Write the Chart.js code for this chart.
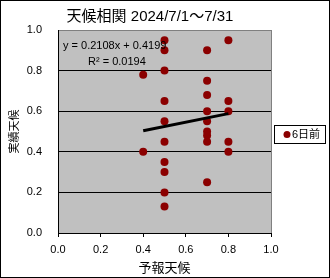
<!DOCTYPE html>
<html>
<head>
<meta charset="utf-8">
<script src="https://cdn.jsdelivr.net/npm/chart.js@4"></script>
<style>
  body { margin: 0; background: #fff; }
  canvas { display: block; }
</style>
</head>
<body>
<canvas id="chart" width="330" height="278"></canvas>
<script>
const FONT = "'Liberation Sans', 'Noto Sans CJK JP', sans-serif";

const chartTitle = "天候相関 2024/7/1〜7/31";
const seriesName = "6日前";
const xTitle = "予報天候";
const yTitle = "実績天候";
const trendLabel = "y = 0.2108x + 0.4199";
const r2Label = "R² = 0.0194";

// forecast value (x) and observed value (y) for each day
const forecast = [
  0.4, 0.4,
  0.5, 0.5, 0.5, 0.5, 0.5, 0.5, 0.5, 0.5, 0.5, 0.5,
  0.7, 0.7, 0.7, 0.7, 0.7, 0.7, 0.7, 0.7, 0.7,
  0.8, 0.8, 0.8, 0.8, 0.8,
];
const actual = [
  0.78, 0.40,
  0.95, 0.90, 0.80, 0.65, 0.55, 0.45, 0.35, 0.30, 0.20, 0.13,
  0.90, 0.75, 0.68, 0.60, 0.55, 0.50, 0.48, 0.45, 0.25,
  0.95, 0.65, 0.60, 0.45, 0.40,
];

// linear trendline end points as drawn
const trendX = [0.4, 0.8];
const trendY = [0.504, 0.588];

const points = forecast.map((x, i) => ({ x, y: actual[i] }));
const trend = trendX.map((x, i) => ({ x, y: trendY[i] }));

// plot background, borders, title, regression text and the legend box
const decor = {
  id: "decor",
  beforeDraw(chart) {
    const { ctx, chartArea: a } = chart;
    ctx.save();
    ctx.fillStyle = "#c0c0c0";
    ctx.fillRect(a.left, a.top, a.right - a.left, a.bottom - a.top);
    ctx.restore();
  },
  afterDatasetsDraw(chart) {
    const { ctx } = chart;
    ctx.save();
    ctx.fillStyle = "#000";
    ctx.font = `11px ${FONT}`;
    ctx.textBaseline = "middle";
    ctx.textAlign = "left";
    ctx.fillText(trendLabel, 63, 46);
    ctx.fillText(r2Label, 88, 62);
    ctx.restore();
  },
  afterDraw(chart) {
    const { ctx, chartArea: a } = chart;
    ctx.save();
    // right edge of the plot
    ctx.strokeStyle = "#808080";
    ctx.lineWidth = 1;
    ctx.beginPath();
    ctx.moveTo(Math.round(a.right) + 0.5, a.top);
    ctx.lineTo(Math.round(a.right) + 0.5, a.bottom);
    ctx.stroke();

    // chart title
    ctx.fillStyle = "#000";
    ctx.font = `15px ${FONT}`;
    ctx.textAlign = "center";
    ctx.textBaseline = "middle";
    ctx.fillText(chartTitle, 150, 16.5);

    // legend
    ctx.fillStyle = "#fff";
    ctx.fillRect(274, 125, 51, 18);
    ctx.strokeStyle = "#000";
    ctx.strokeRect(274.5, 125.5, 51, 18);
    ctx.fillStyle = "#8b0000";
    ctx.beginPath();
    ctx.arc(287, 134.5, 3.5, 0, Math.PI * 2);
    ctx.fill();
    ctx.fillStyle = "#000";
    ctx.font = `11px ${FONT}`;
    ctx.textAlign = "left";
    ctx.fillText(seriesName, 292, 134.5);

    // outer frame
    ctx.strokeRect(0.5, 0.5, chart.width - 1, chart.height - 1);
    ctx.restore();
  },
};

new Chart(document.getElementById("chart"), {
  type: "scatter",
  plugins: [decor],
  data: {
    datasets: [
      {
        label: "trend",
        type: "line",
        data: trend,
        borderColor: "#000",
        borderWidth: 3,
        pointRadius: 0,
        fill: false,
      },
      {
        label: seriesName,
        data: points,
        backgroundColor: "#8b0000",
        borderWidth: 0,
        pointRadius: 4,
      },
    ],
  },
  options: {
    responsive: false,
    animation: false,
    devicePixelRatio: 1,
    layout: {
      padding: { top: 30, right: 59, left: 0, bottom: 0 },
    },
    plugins: {
      legend: { display: false },
      title: { display: false },
      tooltip: { enabled: false },
    },
    scales: {
      x: {
        type: "linear",
        min: 0,
        max: 1,
        afterFit: (s) => { s.height = 45; },
        ticks: {
          stepSize: 0.2,
          color: "#000",
          padding: 6,
          maxRotation: 0,
          font: { family: FONT, size: 11 },
          callback: (v) => v.toFixed(1),
        },
        grid: {
          drawOnChartArea: false,
          drawTicks: true,
          tickLength: 4,
          color: "#000",
        },
        border: { color: "#000" },
        title: {
          display: true,
          text: xTitle,
          color: "#000",
          font: { family: FONT, size: 13 },
          padding: { top: 4, bottom: 2 },
        },
      },
      y: {
        type: "linear",
        min: 0,
        max: 1,
        afterFit: (s) => { s.width = 58; },
        ticks: {
          stepSize: 0.2,
          color: "#000",
          padding: 16,
          font: { family: FONT, size: 11 },
          callback: (v) => v.toFixed(1),
        },
        grid: {
          drawTicks: false,
          color: (c) => (c.tick && c.tick.value === 1 ? "#808080" : "#000"),
        },
        border: { color: "#000" },
        title: {
          display: true,
          text: yTitle,
          color: "#000",
          font: { family: FONT, size: 11 },
          padding: { top: 8, bottom: 0 },
        },
      },
    },
  },
});
</script>
</body>
</html>
